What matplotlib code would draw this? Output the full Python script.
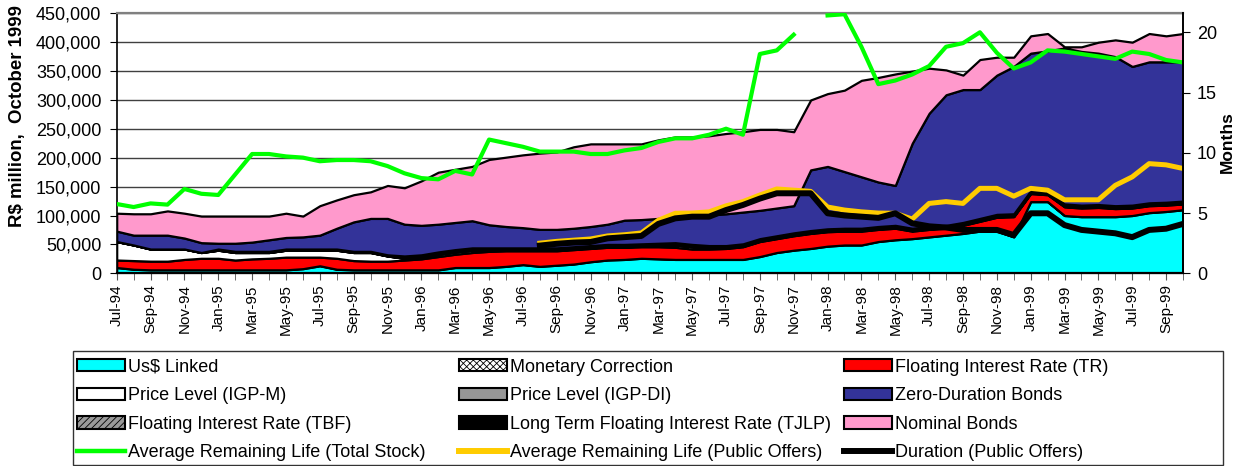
import numpy as np
import pandas as pd
import matplotlib
matplotlib.use('Agg')
import matplotlib.pyplot as plt
from matplotlib.patches import Patch, Rectangle
from matplotlib.lines import Line2D
from matplotlib.ticker import FuncFormatter, FixedLocator

plt.rcParams['font.family'] = ['Liberation Sans', 'DejaVu Sans']
plt.rcParams['hatch.linewidth'] = 0.6

# monthly, Jul-94 .. Oct-99
months = pd.date_range('1994-07-01', '1999-10-01', freq='MS').strftime('%b-%y').tolist()

# stock by indexation, R$ billion, bottom to top
us_linked = [10, 7, 6, 6, 6, 6, 6, 6, 6, 6, 6, 8, 13, 7, 6, 6, 6, 6, 6, 6,
             10, 10, 10, 12, 15, 12, 14, 16, 20, 23, 24, 26, 25, 24, 24, 24, 24, 24, 29, 36,
             40, 43, 47, 49, 49, 55, 58, 60, 63, 66, 69, 73, 73, 63, 124, 124, 100, 98, 98, 98,
             100, 105, 107, 110]
monetary_corr = [0] * 64   # not visible in the chart
floating_tr = [13, 15, 15, 15, 18, 20, 20, 17, 19, 20, 22, 20, 15, 19, 16, 15, 15, 17, 19, 23,
               23, 26, 28, 27, 24, 27, 25, 25, 23, 22, 21, 20, 21, 21, 18, 18, 19, 22, 26, 24,
               25, 26, 25, 24, 24, 21, 20, 13, 13, 12, 14, 17, 24, 35, 14, 12, 15, 15, 16, 14,
               13, 12, 11, 10]
price_igpm = [32, 27, 21, 21, 18, 10, 14, 13, 11, 10, 12, 12, 12, 14, 14, 15, 9, 3, 3, 4,
              4, 4, 2, 1, 1, 1, 1, 1, 1, 1, 1, 1, 2, 4, 4, 2, 1, 1, 1, 1,
              1, 1, 1, 1, 1, 1, 1, 1, 1, 1, 1, 1, 1, 1, 1, 1, 1, 1, 1, 1,
              1, 1, 1, 1]
price_igpdi = [0] * 64     # not visible in the chart
floating_tbf = [0] * 64    # not visible in the chart
tjlp = [0, 0, 0, 0, 0, 0, 2, 2, 2, 2, 2, 2, 2, 2, 2, 2, 2, 4, 4, 4,
        4, 4, 4, 4, 4, 4, 4, 4, 4, 4, 4, 4, 4, 4, 4, 4, 4, 4, 4, 4,
        4, 4, 4, 4, 4, 4, 4, 4, 4, 4, 4, 4, 4, 4, 4, 4, 4, 4, 4, 4,
        4, 4, 4, 4]
zero_duration = [18, 17, 24, 24, 19, 17, 10, 14, 16, 20, 20, 21, 24, 36, 51, 57, 63, 55, 51, 48,
                 47, 47, 40, 37, 35, 32, 32, 32, 33, 35, 42, 42, 43, 44, 49, 53, 55, 55, 49, 48,
                 47, 105, 108, 98, 89, 77, 69, 147, 196, 226, 230, 223, 241, 255, 238, 244, 270, 266, 262, 258,
                 240, 244, 243, 241]
nominal = [31, 37, 37, 42, 43, 46, 47, 47, 45, 41, 42, 36, 51, 49, 47, 46, 57, 63, 77, 90,
           92, 94, 113, 120, 126, 132, 134, 141, 143, 139, 132, 131, 136, 139, 137, 137, 139, 139, 140, 136,
           128, 121, 126, 141, 167, 181, 193, 125, 78, 43, 25, 52, 31, 16, 30, 30, 2, 8, 19, 29,
           42, 49, 45, 49]

# months (right axis)
life_total = [5.75, 5.5, 5.8, 5.7, 7.0, 6.6, 6.5, 8.2, 9.9, 9.9, 9.7, 9.6, 9.3, 9.4, 9.4, 9.3, 8.9, 8.3, 7.9, 7.8,
              8.5, 8.2, 11.1, 10.8, 10.5, 10.1, 10.1, 10.1, 9.9, 9.9, 10.2, 10.4, 10.9, 11.2, 11.2, 11.5, 12.0, 11.5, 18.2, 18.5,
              19.8, None, 21.4, 21.5, 18.8, 15.7, 16.0, 16.5, 17.2, 18.8, 19.1, 20.0, 18.3, 17.0, 17.5, 18.5, 18.4, 18.2, 18.0, 17.8,
              18.4, 18.2, 17.7, 17.5]
life_offers = [None] * 25 + [2.5, 2.65, 2.75, 2.85, 3.1, 3.2, 3.35, 4.4, 4.98, 5.0,
                             5.1, 5.6, 5.95, 6.5, 7.0, 6.9, 6.8, 5.5, 5.25, 5.1,
                             5.0, 4.98, 4.5, 5.8, 5.95, 5.8, 7.05, 7.05, 6.4, 7.05,
                             6.9, 6.1, 6.1, 6.1, 7.3, 8.0, 9.1, 9.0, 8.7]
duration_offers = [None] * 25 + [2.3, 2.45, 2.55, 2.6, 2.9, 3.0, 3.1, 4.1, 4.56, 4.7,
                                 4.7, 5.25, 5.67, 6.2, 6.64, 6.64, 6.64, 4.98, 4.8, 4.7,
                                 4.6, 4.98, 4.15, 3.9, 3.8, 3.6, 3.6, 3.6, 3.18, 4.98,
                                 4.98, 4.0, 3.6, 3.46, 3.32, 3.0, 3.6, 3.7, 4.1]

layers = [
    ('Us\\$ Linked', us_linked, '#00FFFF', None),
    ('Monetary Correction', monetary_corr, 'white', 'xxxxx'),
    ('Floating Interest Rate (TR)', floating_tr, '#FF0000', None),
    ('Price Level (IGP-M)', price_igpm, 'white', None),
    ('Price Level (IGP-DI)', price_igpdi, '#969696', None),
    ('Floating Interest Rate (TBF)', floating_tbf, '#9A9A9A', '/////'),
    ('Long Term Floating Interest Rate (TJLP)', tjlp, 'black', None),
    ('Zero-Duration Bonds', zero_duration, '#333399', None),
    ('Nominal Bonds', nominal, '#FF99CC', None),
]

x = np.arange(len(months))

fig = plt.figure(figsize=(12.39, 4.66), dpi=100)
ax = fig.add_axes([116.7/1239, 1-273.3/466, 1066.3/1239, 260/466])

base = np.zeros(len(x))
patches = {}
for name, vals, col, hatch in layers:
    top = base + np.array(vals, dtype=float) * 1000  # R$ billion -> R$ million
    ax.fill_between(x, base, top, facecolor=col, edgecolor='black', linewidth=1.6, hatch=hatch)
    patches[name] = Patch(facecolor=col, edgecolor='black', linewidth=1.5, hatch=hatch, label=name)
    base = top

ax.set_xlim(0, len(x) - 1)
ax.set_ylim(0, 450000)
ax.set_yticks(np.arange(0, 450001, 50000))
ax.yaxis.set_major_formatter(FuncFormatter(lambda v, p: f'{int(v):,}'))
ax.set_axisbelow(True)
ax.yaxis.grid(True, color='#404040', linewidth=1.0)
ax.spines['top'].set_color('#808080')
ax.spines['top'].set_linewidth(1.6)
ax.spines['right'].set_visible(False)
ax.spines['left'].set_linewidth(1.2)
ax.spines['bottom'].set_linewidth(1.6)
ax.tick_params(axis='y', labelsize=13, length=5, pad=6)

ax.xaxis.set_major_locator(FixedLocator(x[::2]))
ax.xaxis.set_minor_locator(FixedLocator(x[1::2]))
ax.set_xticklabels(months[::2], rotation=90, fontsize=11)
ax.tick_params(axis='x', which='both', length=5, color='#555555', pad=3)

ax2 = ax.twinx()
ax2.set_ylim(0, 260/12.05)
ax2.set_yticks([0, 5, 10, 15, 20])
ax2.tick_params(axis='y', labelsize=13, length=5, pad=5)
ax2.spines['right'].set_linewidth(1.4)
ax2.spines['top'].set_visible(False)
ax2.spines['left'].set_visible(False)

life_offers_a = np.array(life_offers, dtype=float)
duration_a = np.array(duration_offers, dtype=float)
life_total_a = np.array(life_total, dtype=float)
ax2.plot(x, life_offers_a, color='#FFCC00', linewidth=3.6)
ax2.plot(x, duration_a, color='black', linewidth=4.3)
ax2.plot(x, life_total_a, color='#00FF00', linewidth=3.0)

fig.text(18/1239, 1-116/466, 'R\\$ million,  October 1999', rotation=90, ha='center', va='center',
         fontsize=13.4, fontweight='bold')
fig.text(1227/1239, 1-142/466, 'Months', rotation=90, ha='center', va='center',
         fontsize=12.5, fontweight='bold')

line_green = Line2D([], [], color='#00FF00', linewidth=3.2, label='Average Remaining Life (Total Stock)')
line_yellow = Line2D([], [], color='#FFCC00', linewidth=4.3, label='Average Remaining Life (Public Offers)')
line_black = Line2D([], [], color='black', linewidth=4.3, label='Duration (Public Offers)')

columns = [
    [patches['Us\\$ Linked'], patches['Price Level (IGP-M)'], patches['Floating Interest Rate (TBF)'], line_green],
    [patches['Monetary Correction'], patches['Price Level (IGP-DI)'],
     patches['Long Term Floating Interest Rate (TJLP)'], line_yellow],
    [patches['Floating Interest Rate (TR)'], patches['Zero-Duration Bonds'], patches['Nominal Bonds'], line_black],
]
col_x = [76.7, 459, 844]
for cx, handles in zip(col_x, columns):
    leg = fig.legend(handles=handles, loc='upper left', bbox_to_anchor=(cx/1239, 1-358.6/466),
                     frameon=False, fontsize=13, borderpad=0, borderaxespad=0,
                     handlelength=2.67, handleheight=0.67, handletextpad=0.18, labelspacing=0.64)

fig.add_artist(Rectangle((72.7/1239, 1-465/466), (1222.5-72.7)/1239, 114/466,
                         transform=fig.transFigure, fill=False, edgecolor='#333333', linewidth=1.0))

fig.savefig('out.png', dpi=100)
